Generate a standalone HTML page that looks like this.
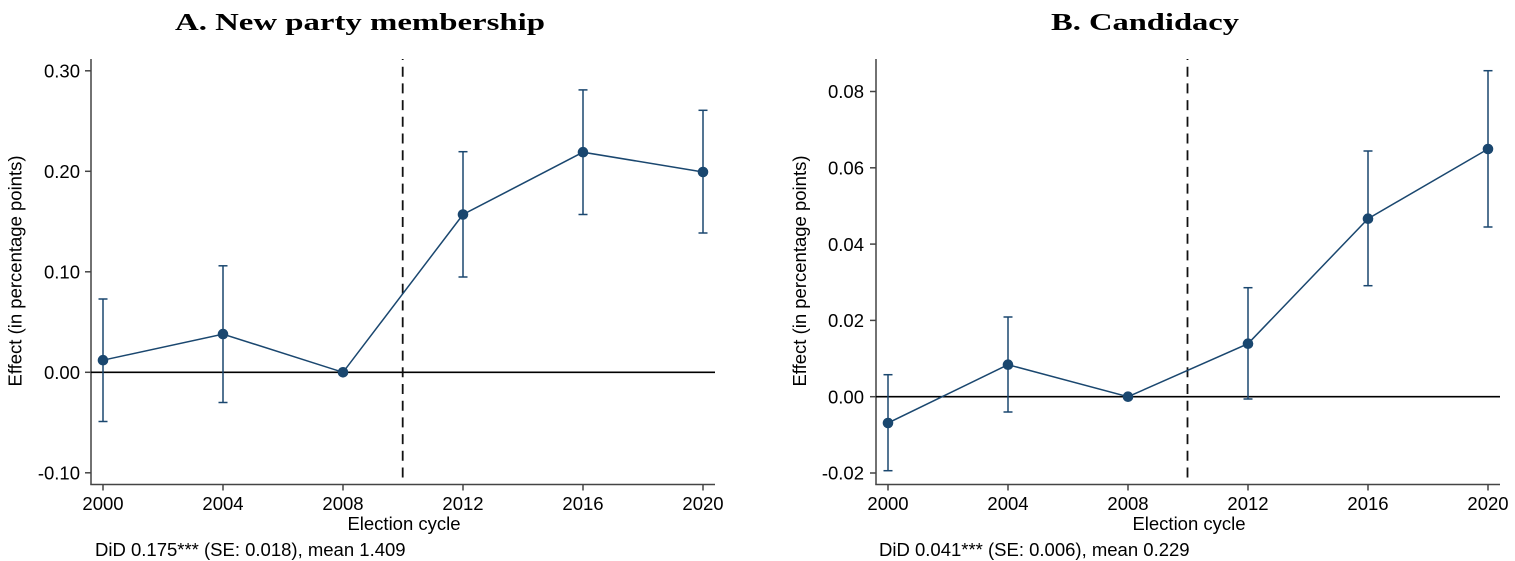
<!DOCTYPE html>
<html>
<head>
<meta charset="utf-8">
<style>
  html, body { margin: 0; padding: 0; background: #ffffff; }
  svg { display: block; }
  .t { font-family: "Liberation Sans", Arial, sans-serif; font-size: 18.5px; fill: #000; }
  .title { font-family: "Liberation Serif", "Times New Roman", serif; font-size: 24px; font-weight: bold; fill: #000; }
</style>
</head>
<body>
<svg width="1515" height="561" viewBox="0 0 1515 561" xmlns="http://www.w3.org/2000/svg">
  <rect x="0" y="0" width="1515" height="561" fill="#ffffff"/>

  <!-- ================= Panel A ================= -->
  <text class="title" x="360" y="30" text-anchor="middle" textLength="370" lengthAdjust="spacingAndGlyphs">A. New party membership</text>

  <g stroke="#444" stroke-width="1.5" fill="none">
    <line x1="91" y1="59" x2="91" y2="484.5"/>
    <line x1="90.25" y1="484.5" x2="715" y2="484.5"/>
    <line x1="85" y1="70.8" x2="91" y2="70.8"/>
    <line x1="85" y1="171.3" x2="91" y2="171.3"/>
    <line x1="85" y1="271.8" x2="91" y2="271.8"/>
    <line x1="85" y1="372.3" x2="91" y2="372.3"/>
    <line x1="85" y1="472.8" x2="91" y2="472.8"/>
    <line x1="103" y1="484.5" x2="103" y2="490.5"/>
    <line x1="223" y1="484.5" x2="223" y2="490.5"/>
    <line x1="343" y1="484.5" x2="343" y2="490.5"/>
    <line x1="463" y1="484.5" x2="463" y2="490.5"/>
    <line x1="583" y1="484.5" x2="583" y2="490.5"/>
    <line x1="703" y1="484.5" x2="703" y2="490.5"/>
  </g>

  <g class="t" text-anchor="end">
    <text x="80" y="77.5">0.30</text>
    <text x="80" y="178">0.20</text>
    <text x="80" y="278.5">0.10</text>
    <text x="80" y="379">0.00</text>
    <text x="80" y="479.5">-0.10</text>
  </g>
  <g class="t" text-anchor="middle">
    <text x="103" y="510">2000</text>
    <text x="223" y="510">2004</text>
    <text x="343" y="510">2008</text>
    <text x="463" y="510">2012</text>
    <text x="583" y="510">2016</text>
    <text x="703" y="510">2020</text>
    <text x="404" y="530">Election cycle</text>
  </g>
  <text class="t" x="21.5" y="271" text-anchor="middle" transform="rotate(-90 21.5 271)">Effect (in percentage points)</text>
  <text class="t" x="95" y="556">DiD 0.175*** (SE: 0.018), mean 1.409</text>

  <line x1="91" y1="372.3" x2="715" y2="372.3" stroke="#000" stroke-width="1.6"/>
  <line x1="402.7" y1="59" x2="402.7" y2="484" stroke="#111" stroke-width="1.8" stroke-dasharray="10,6.7" stroke-dashoffset="9"/>

  <g stroke="#1a476f" stroke-width="1.5" fill="none">
    <line x1="103" y1="299" x2="103" y2="421.5"/>
    <line x1="98.5" y1="299" x2="107.5" y2="299"/>
    <line x1="98.5" y1="421.5" x2="107.5" y2="421.5"/>

    <line x1="223" y1="265.8" x2="223" y2="402.5"/>
    <line x1="218.5" y1="265.8" x2="227.5" y2="265.8"/>
    <line x1="218.5" y1="402.5" x2="227.5" y2="402.5"/>

    <line x1="463" y1="151.7" x2="463" y2="277"/>
    <line x1="458.5" y1="151.7" x2="467.5" y2="151.7"/>
    <line x1="458.5" y1="277" x2="467.5" y2="277"/>

    <line x1="583" y1="89.9" x2="583" y2="214.5"/>
    <line x1="578.5" y1="89.9" x2="587.5" y2="89.9"/>
    <line x1="578.5" y1="214.5" x2="587.5" y2="214.5"/>

    <line x1="703" y1="110.3" x2="703" y2="233"/>
    <line x1="698.5" y1="110.3" x2="707.5" y2="110.3"/>
    <line x1="698.5" y1="233" x2="707.5" y2="233"/>

    <polyline points="103,360.2 223,334.1 343,372.3 463,214.5 583,152.2 703,172" stroke-width="1.5"/>
  </g>
  <g fill="#1a476f">
    <circle cx="103" cy="360.2" r="5.3"/>
    <circle cx="223" cy="334.1" r="5.3"/>
    <circle cx="343" cy="372.3" r="5.3"/>
    <circle cx="463" cy="214.5" r="5.3"/>
    <circle cx="583" cy="152.2" r="5.3"/>
    <circle cx="703" cy="172" r="5.3"/>
  </g>

  <!-- ================= Panel B ================= -->
  <text class="title" x="1145" y="30" text-anchor="middle" textLength="188" lengthAdjust="spacingAndGlyphs">B. Candidacy</text>

  <g stroke="#444" stroke-width="1.5" fill="none">
    <line x1="876" y1="59" x2="876" y2="484.5"/>
    <line x1="875.25" y1="484.5" x2="1500" y2="484.5"/>
    <line x1="870" y1="91.5" x2="876" y2="91.5"/>
    <line x1="870" y1="167.8" x2="876" y2="167.8"/>
    <line x1="870" y1="244.1" x2="876" y2="244.1"/>
    <line x1="870" y1="320.4" x2="876" y2="320.4"/>
    <line x1="870" y1="396.7" x2="876" y2="396.7"/>
    <line x1="870" y1="473" x2="876" y2="473"/>
    <line x1="888" y1="484.5" x2="888" y2="490.5"/>
    <line x1="1008" y1="484.5" x2="1008" y2="490.5"/>
    <line x1="1128" y1="484.5" x2="1128" y2="490.5"/>
    <line x1="1248" y1="484.5" x2="1248" y2="490.5"/>
    <line x1="1368" y1="484.5" x2="1368" y2="490.5"/>
    <line x1="1488" y1="484.5" x2="1488" y2="490.5"/>
  </g>

  <g class="t" text-anchor="end">
    <text x="864" y="98.2">0.08</text>
    <text x="864" y="174.5">0.06</text>
    <text x="864" y="250.8">0.04</text>
    <text x="864" y="327.1">0.02</text>
    <text x="864" y="403.4">0.00</text>
    <text x="864" y="479.7">-0.02</text>
  </g>
  <g class="t" text-anchor="middle">
    <text x="888" y="510">2000</text>
    <text x="1008" y="510">2004</text>
    <text x="1128" y="510">2008</text>
    <text x="1248" y="510">2012</text>
    <text x="1368" y="510">2016</text>
    <text x="1488" y="510">2020</text>
    <text x="1189" y="530">Election cycle</text>
  </g>
  <text class="t" x="806" y="271" text-anchor="middle" transform="rotate(-90 806 271)">Effect (in percentage points)</text>
  <text class="t" x="879" y="556">DiD 0.041*** (SE: 0.006), mean 0.229</text>

  <line x1="876" y1="396.7" x2="1500" y2="396.7" stroke="#000" stroke-width="1.6"/>
  <line x1="1187.5" y1="59" x2="1187.5" y2="484" stroke="#111" stroke-width="1.8" stroke-dasharray="10,6.7" stroke-dashoffset="9"/>

  <g stroke="#1a476f" stroke-width="1.5" fill="none">
    <line x1="888" y1="374.7" x2="888" y2="470.7"/>
    <line x1="883.5" y1="374.7" x2="892.5" y2="374.7"/>
    <line x1="883.5" y1="470.7" x2="892.5" y2="470.7"/>

    <line x1="1008" y1="317" x2="1008" y2="412"/>
    <line x1="1003.5" y1="317" x2="1012.5" y2="317"/>
    <line x1="1003.5" y1="412" x2="1012.5" y2="412"/>

    <line x1="1248" y1="287.7" x2="1248" y2="399"/>
    <line x1="1243.5" y1="287.7" x2="1252.5" y2="287.7"/>
    <line x1="1243.5" y1="399" x2="1252.5" y2="399"/>

    <line x1="1368" y1="151" x2="1368" y2="285.7"/>
    <line x1="1363.5" y1="151" x2="1372.5" y2="151"/>
    <line x1="1363.5" y1="285.7" x2="1372.5" y2="285.7"/>

    <line x1="1488" y1="70.7" x2="1488" y2="227"/>
    <line x1="1483.5" y1="70.7" x2="1492.5" y2="70.7"/>
    <line x1="1483.5" y1="227" x2="1492.5" y2="227"/>

    <polyline points="888,423 1008,364.7 1128,396.7 1248,343.7 1368,218.7 1488,149" stroke-width="1.5"/>
  </g>
  <g fill="#1a476f">
    <circle cx="888" cy="423" r="5.3"/>
    <circle cx="1008" cy="364.7" r="5.3"/>
    <circle cx="1128" cy="396.7" r="5.3"/>
    <circle cx="1248" cy="343.7" r="5.3"/>
    <circle cx="1368" cy="218.7" r="5.3"/>
    <circle cx="1488" cy="149" r="5.3"/>
  </g>
</svg>
</body>
</html>
